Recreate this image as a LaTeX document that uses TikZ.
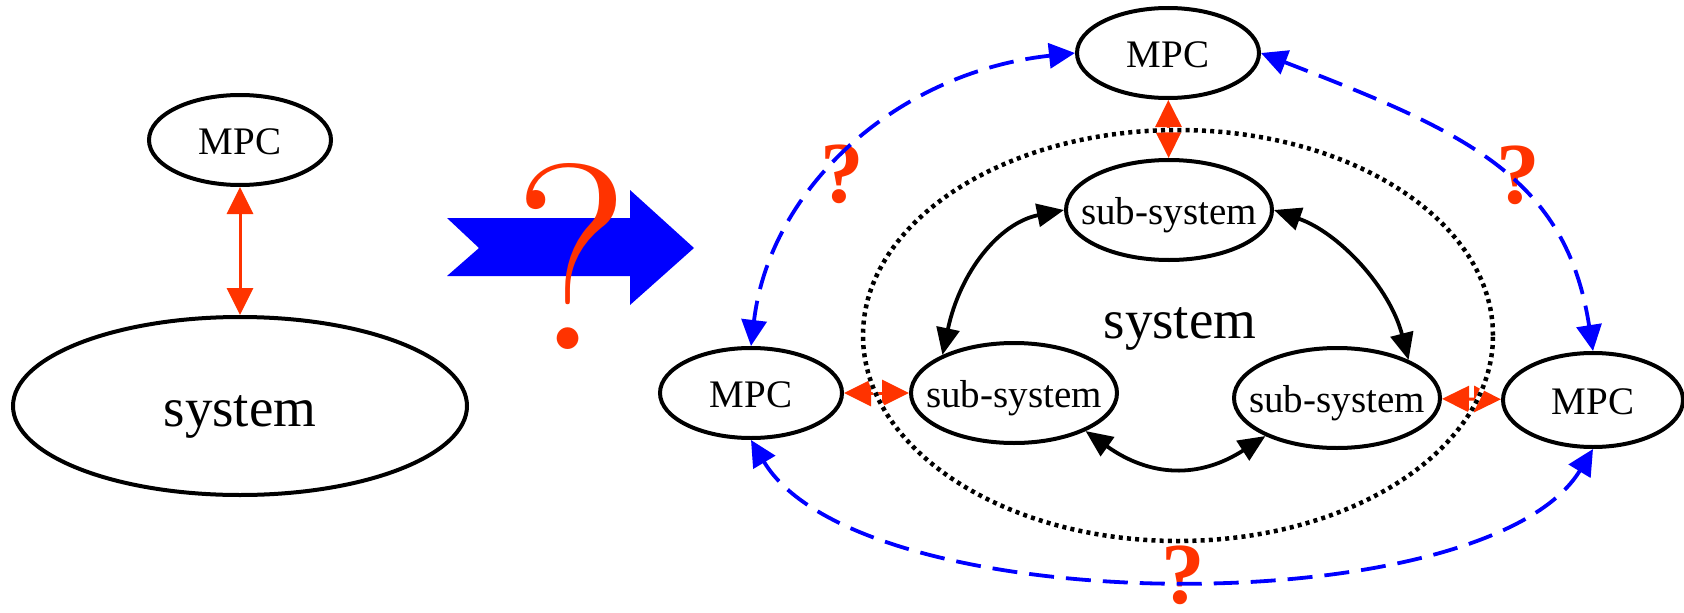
\documentclass[tikz,border=0pt]{standalone}
\usepackage{fontspec}
\newfontfamily\labelfont{Liberation Serif}
\usetikzlibrary{arrows.meta,shapes.geometric}
\definecolor{qred}{HTML}{FF3300}
\definecolor{linkblue}{HTML}{0000FF}
% zero-width text box so the ellipse keeps its given size
\newcommand{\zw}[1]{\makebox[0pt]{#1}}

\begin{document}
\begin{tikzpicture}[x=1pt,y=-1pt,
  blob/.style={ellipse, draw=black, line width=4pt, inner sep=0pt},
  txtmid/.style={font=\labelfont\fontsize{39pt}{39pt}\selectfont, text height=36.6pt, text depth=7.8pt},
  txtbig/.style={font=\labelfont\fontsize{55pt}{55pt}\selectfont, text height=51.7pt, text depth=11pt},
  mpc/.style={blob, txtmid, minimum width=182pt, minimum height=90pt},
  mpcr/.style={blob, txtmid, minimum width=180pt, minimum height=94pt},
  subsys/.style={blob, txtmid, minimum width=206pt, minimum height=100pt},
  bigsys/.style={blob, txtbig, minimum width=454pt, minimum height=178pt},
  ring/.style={ellipse, minimum width=630pt, minimum height=411pt, inner sep=0pt,
    draw=black, line width=4.5pt, dash pattern=on 4pt off 4.2pt,
    preaction={draw=white, solid}},
  redlink/.style={draw=qred, line width=3pt,
    arrows={Triangle[length=27pt,width=26pt]-Triangle[length=27pt,width=26pt]}},
  bluelink/.style={draw=linkblue, line width=3.8pt, dash pattern=on 25pt off 12pt,
    arrows={Triangle[length=26pt,width=25pt]-Triangle[length=26pt,width=25pt]}},
  blacklink/.style={draw=black, line width=3.8pt,
    arrows={Triangle[length=27pt,width=23pt]-Triangle[length=27pt,width=23pt]}},
  bigq/.style={text=qred, inner sep=0pt, font=\rmfamily\fontsize{265pt}{265pt}\selectfont},
  smallq/.style={text=qred, inner sep=0pt, font=\labelfont\fontsize{87pt}{87pt}\selectfont\bfseries}
]
\useasboundingbox (0,0) rectangle (1684,613);

% transition arrow with its question mark
\fill[linkblue] (447,218) -- (630,218) -- (630,190) -- (694,248) -- (630,305)
  -- (630,276) -- (447,276) -- (479,248) -- cycle;
\node[bigq] (qbig) at (572,256) {?};

% centralised scheme
\node[mpc] (mpc0) at (240,140) {\zw{MPC}};
\node[bigsys] (sys0) at (240,406) {\zw{system}};
\draw[redlink] (mpc0) -- (sys0);

% distributed scheme
\node[mpc] (mpct) at (1168,53) {\zw{MPC}};
\node[mpc] (mpcl) at (751,393) {\zw{MPC}};
\node[mpcr] (mpcr) at (1593,400) {\zw{MPC}};
\node[subsys] (subt) at (1169,210) {\zw{sub-system}};
\node[subsys] (subl) at (1014,393) {\zw{sub-system}};
\node[subsys] (subr) at (1337,398) {\zw{sub-system}};
\node[txtbig, inner sep=0pt] (syslabel) at (1180,318) {system};

\draw[redlink] (mpct) -- (subt);
\draw[redlink] (mpcl) -- (subl);
\draw[redlink] (subr) -- (mpcr);

\node[ring] (sysring) at (1178,335.5) {};

% open questions on the controller links
\node[smallq] (q1) at (842,174) {?};
\node[smallq] (q2) at (1518,175) {?};
\node[smallq] (q3) at (1183,575) {?};

\draw[bluelink] (mpct.west) .. controls (898,72) and (770,187) .. (mpcl.north);
\draw[bluelink] (mpct.east) .. controls (1465,132) and (1566,176) .. (mpcr.north);
\draw[bluelink] (mpcl.south) .. controls (859,621) and (1486,625) .. (mpcr.south);

% couplings between sub-systems
\draw[blacklink] (subl.152) .. controls (960,272) and (999,223) .. (subt.west);
\draw[blacklink] (subt.east) .. controls (1339.5,233) and (1390,288) .. (subr.28);
\draw[blacklink] (subl.-28) .. controls (1150,477) and (1199,479) .. (subr.208);
\end{tikzpicture}
\end{document}
